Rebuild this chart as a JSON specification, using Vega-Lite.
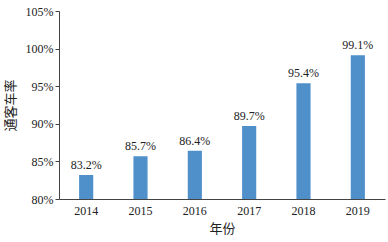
{
  "$schema": "https://vega.github.io/schema/vega-lite/v6.json",
  "width": 326,
  "height": 188,
  "autosize": "none",
  "padding": {"left": 59, "top": 11, "right": 3, "bottom": 43},
  "background": "white",
  "config": {
    "view": {"stroke": null},
    "font": "Times New Roman",
    "axis": {"labelFont": "Times New Roman", "titleFont": "Noto Sans CJK SC", "labelColor": "#222", "titleColor": "#222", "domainColor": "#444", "tickColor": "#444", "grid": false}
  },
  "data": {"values": [
    {"year": "2014", "rate": 83.2},
    {"year": "2015", "rate": 85.7},
    {"year": "2016", "rate": 86.4},
    {"year": "2017", "rate": 89.7},
    {"year": "2018", "rate": 95.4},
    {"year": "2019", "rate": 99.1}
  ]},
  "encoding": {
    "x": {"field": "year", "type": "nominal", "scale": {"paddingInner": 0.74, "paddingOuter": 0.37},
      "axis": {"title": "年份", "labelAngle": 0, "labelFontSize": 12, "titleFontSize": 13, "titleFontWeight": "normal", "ticks": false, "labelPadding": 6, "titlePadding": 6}},
    "y": {"field": "rate", "type": "quantitative", "scale": {"domain": [80, 105], "zero": false, "nice": false},
      "axis": {"title": "通客车率", "values": [80, 85, 90, 95, 100, 105], "labelExpr": "datum.value + '%'", "labelFontSize": 12, "titleFontSize": 13, "titleFontWeight": "normal", "tickSize": 4, "titlePadding": 8, "labelPadding": 2}}
  },
  "layer": [
    {"mark": {"type": "bar", "color": "#4f8fca", "clip": true}},
    {"mark": {"type": "text", "dy": -10, "fontSize": 12, "color": "#222", "font": "Liberation Serif", "text": {"expr": "format(datum.rate, '.1f') + '%'"}}}
  ]
}
